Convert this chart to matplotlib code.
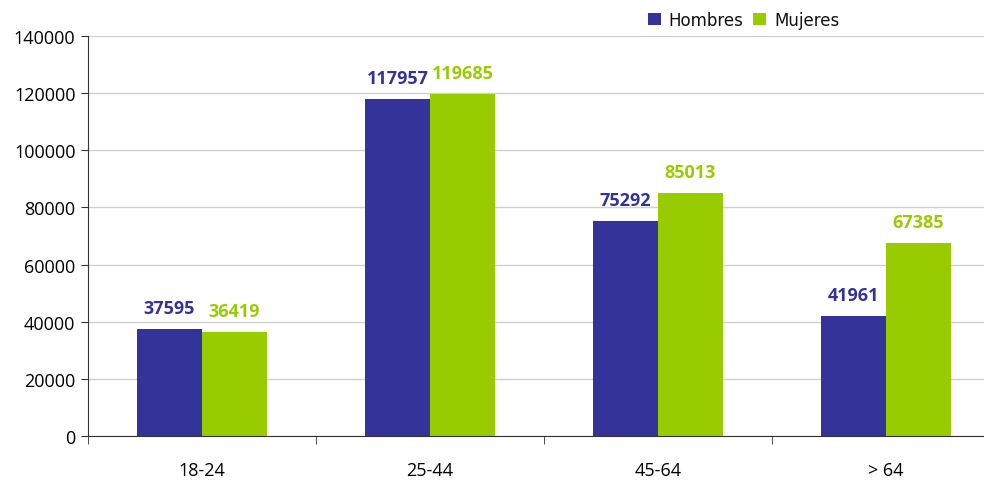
import matplotlib
matplotlib.use("Agg")
import matplotlib.pyplot as plt
import numpy as np

categories = ["18-24", "25-44", "45-64", "> 64"]
hombres = [37595, 117957, 75292, 41961]
mujeres = [36419, 119685, 85013, 67385]
yticks = [0, 20000, 40000, 60000, 80000, 100000, 120000, 140000]

c_h = "#333399"
c_m = "#99CC00"

fig = plt.figure(figsize=(9.84, 4.81), dpi=100)
ax = fig.add_axes([88 / 984, 1 - 437 / 481, 912 / 984, 400 / 481])

x = np.arange(len(categories))
w = 0.285
bh = ax.bar(x - w / 2, hombres, w, color=c_h, label="Hombres", zorder=2)
bm = ax.bar(x + w / 2, mujeres, w, color=c_m, label="Mujeres", zorder=2)

for xs, vals, col in ((x - w / 2, hombres, c_h), (x + w / 2, mujeres, c_m)):
    for xi, v in zip(xs, vals):
        ax.annotate(str(v), (xi, v), xytext=(0, 11.5), textcoords="offset points",
                    ha="center", va="baseline", color=col, fontsize=13,
                    fontweight="bold", family="Open Sans")

ax.set_xlim(-0.5, len(categories) - 0.5)
ax.set_ylim(0, 140000)
ax.set_yticks(yticks)
ax.set_yticklabels([str(t) for t in yticks], fontsize=13, family="Open Sans")
ax.set_xticks(x)
ax.set_xticklabels(categories, fontsize=13, family="Open Sans")
ax.set_xticks(np.arange(len(categories) + 1) - 0.5, minor=True)
ax.tick_params(axis="x", which="major", length=0, pad=18)
ax.tick_params(axis="x", which="minor", length=6, direction="out", color="#333333")
ax.tick_params(axis="y", length=5, direction="out", color="#333333", pad=4)

ax.grid(axis="y", color="#d0d0d0", linewidth=1, zorder=0)
for s in ["top", "right"]:
    ax.spines[s].set_visible(False)
ax.spines["left"].set_color("#333333")
ax.spines["bottom"].set_color("#333333")

leg = fig.legend(handles=[bh, bm], loc="center left",
                 bbox_to_anchor=(643 / 984, 1 - 21 / 481),
                 ncol=2, frameon=True, fancybox=False, edgecolor="white",
                 facecolor="white", framealpha=1,
                 prop={"family": "DejaVu Sans", "size": 12},
                 handlelength=0.78, handleheight=0.78, handletextpad=0.45,
                 columnspacing=0.6, borderpad=0.3, borderaxespad=0)
for t in leg.get_texts():
    t.set_color("#111111")
leg.set_zorder(5)

fig.savefig("out.png", dpi=100)
